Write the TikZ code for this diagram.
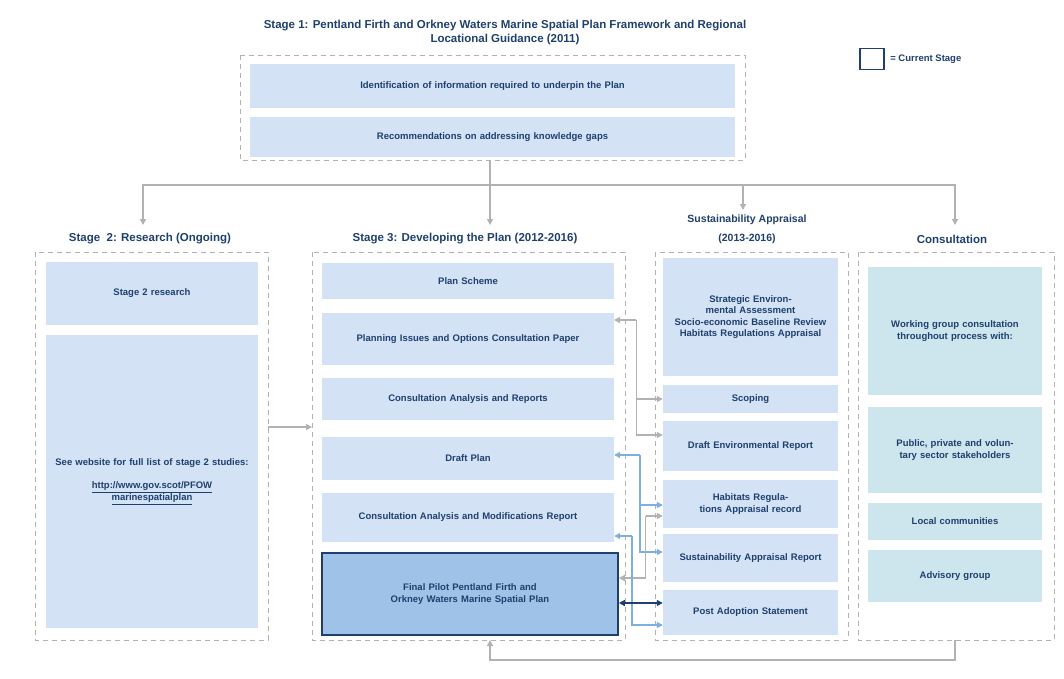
\documentclass[tikz,border=0pt]{standalone}
\usepackage{fontspec}
\setmainfont{Liberation Sans}
\usetikzlibrary{arrows.meta}
\definecolor{navy}{HTML}{1F3F6E}
\definecolor{boxfill}{HTML}{D3E3F5}
\definecolor{curfill}{HTML}{9FC2E8}
\definecolor{confill}{HTML}{CDE6EE}
\definecolor{lblue}{HTML}{7FAEE0}
\definecolor{dblue}{HTML}{1F3F6E}
\tikzset{
every node/.style={font=\fontsize{9.5}{11.5}\selectfont\bfseries, text=navy}, % default text
box/.style={fill=boxfill, draw=none, align=center, inner sep=2pt},
dbox/.style={draw=gray!60, dashed, dash pattern=on 5pt off 4pt, line width=1pt},
hdr/.style={font=\fontsize{11.5}{14}\selectfont\bfseries, align=center},
link/.style={-{Triangle[length=6pt,width=6pt]}, line width=1.3pt},
}
% box from (x1,y1) to (x2,y2) with centred text
\newcommand{\pbox}[6][box]{%
\node[#1, minimum width=#4-#2, minimum height=#5-#3, text width=#4-#2-14] at ({(#2+#4)/2},{(#3+#5)/2}) #6;}
\begin{document}
\begin{tikzpicture}[x=1pt,y=-1pt]
\useasboundingbox (0,0) rectangle (1064,678);
% title and key
\node[hdr] (title) at (505,33) {Stage 1: Pentland Firth and Orkney Waters Marine Spatial Plan Framework and Regional\\Locational Guidance (2011)};
\node[draw=dblue, line width=1.5pt, minimum width=24, minimum height=21] (key) at (872,59) {};
\node[right=2pt] (keytext) at (key.east) {= Current Stage};
% dashed frames
\draw[dbox] (240,55) rectangle (745,160);
\draw[dbox] (35,252) rectangle (268,640);
\draw[dbox] (312,252) rectangle (625,640);
\draw[dbox] (655,252) rectangle (848,640);
\draw[dbox] (858,252) rectangle (1054,640);
\coordinate (s1b) at (490,160);
\coordinate (s2r) at (268,427);
\coordinate (s3l) at (312,427);
\coordinate (s3b) at (490,640);
\coordinate (conb) at (955,640);
% stage 1
\pbox{250}{64}{735}{108}{(info) {Identification of information required to underpin the Plan}}
\pbox{250}{117}{735}{157}{(gaps) {Recommendations on addressing knowledge gaps}}
% headings
\node[hdr] (h2) at (150,239) {Stage\ \ 2: Research (Ongoing)};
\node[hdr] (h3) at (465,239) {Stage 3: Developing the Plan (2012-2016)};
\node[font=\fontsize{10.5}{19}\selectfont\bfseries, align=center] (hsa) at (747,229) {Sustainability Appraisal\\(2013-2016)};
\node[hdr] (hcon) at (952,239) {Consultation};
% stage 2
\pbox{46}{262}{258}{325}{(res) {Stage 2 research}}
\pbox{46}{335}{258}{628}{(web) {See website for full list of stage 2 studies:\\[12pt] \underline{http://www.gov.scot/PFOW}\\\underline{marinespatialplan}}}
% stage 3
\pbox{322}{263}{614}{299}{(scheme) {Plan Scheme\\[10pt]}}
\pbox{322}{313}{614}{365}{(issues) {Planning Issues and Options Consultation Paper\\[6pt]}}
\pbox{322}{378}{614}{420}{(analysis) {Consultation Analysis and Reports\\[8pt]}}
\pbox{322}{437}{614}{480}{(draft) {Draft Plan\\[12pt]}}
\pbox{322}{493}{614}{542}{(mods) {Consultation Analysis and Modifications Report\\[4pt]}}
\pbox[box, fill=curfill, draw=dblue, line width=1.6pt]{322}{553}{618}{635}{(final) {Final Pilot Pentland Firth and Orkney Waters Marine Spatial Plan\\[6pt]}}
% sustainability appraisal
\pbox{663}{258}{838}{376}{(sea) {Strategic Environmental Assessment\\Socio-economic Baseline Review\\Habitats Regulations Appraisal}}
\pbox{663}{385}{838}{413}{(scoping) {Scoping}}
\pbox{663}{421}{838}{471}{(envrep) {Draft Environmental Report}}
\pbox{663}{480}{838}{528}{(hra) {Habitats Regulations Appraisal record}}
\pbox{663}{534}{838}{582}{(sarep) {Sustainability Appraisal Report}}
\pbox{663}{590}{838}{635}{(post) {Post Adoption Statement}}
% consultation
\pbox[box, fill=confill]{868}{267}{1042}{395}{(wg) {Working group consultation throughout process with:}}
\pbox[box, fill=confill]{868}{407}{1042}{493}{(stake) {Public, private and voluntary sector stakeholders}}
\pbox[box, fill=confill]{868}{503}{1042}{540}{(local) {Local communities}}
\pbox[box, fill=confill]{868}{550}{1042}{602}{(adv) {Advisory group}}
% flow from stage 1
\draw[link, gray!60, -] (s1b) -- ++(0,25) coordinate (split);
\draw[link, gray!60] (split) -| (143,225);
\draw[link, gray!60] (split) -- (490,225);
\draw[link, gray!60] (split) -| (743,210);
\draw[link, gray!60] (split) -| (955,225);
\draw[link, gray!60] (s2r) -- (s3l);
\draw[link, gray!60] (conb) -- ++(0,20) -| (s3b);
% links between stage 3 and appraisal
\draw[link, gray!60] (issues.east |- 0,320) ++(22,0) coordinate (g1) -- (614,320);
\draw[link, gray!60] (g1) |- (scoping.west);
\draw[link, gray!60] (g1) |- (envrep.west |- 0,435);
\draw[link, lblue] (640,455) coordinate (b1) -- (draft.east |- 0,455);
\draw[link, lblue] (b1) |- (hra.west |- 0,505);
\draw[link, lblue] (b1) |- (sarep.west |- 0,552);
\draw[link, gray!60] (hra.west |- 0,516) ++(-17,0) coordinate (g2) -- (hra.west |- 0,516);
\draw[link, gray!60] (g2) |- (final.east |- 0,578);
\draw[link, lblue] (632,536) coordinate (b2) -- (mods.east |- 0,536);
\draw[link, lblue] (b2) |- (post.west |- 0,625);
\draw[link, dblue, {Triangle[length=6pt,width=6pt]}-{Triangle[length=6pt,width=6pt]}] (final.east |- 0,603) -- (post.west |- 0,603);
\end{tikzpicture}
\end{document}
